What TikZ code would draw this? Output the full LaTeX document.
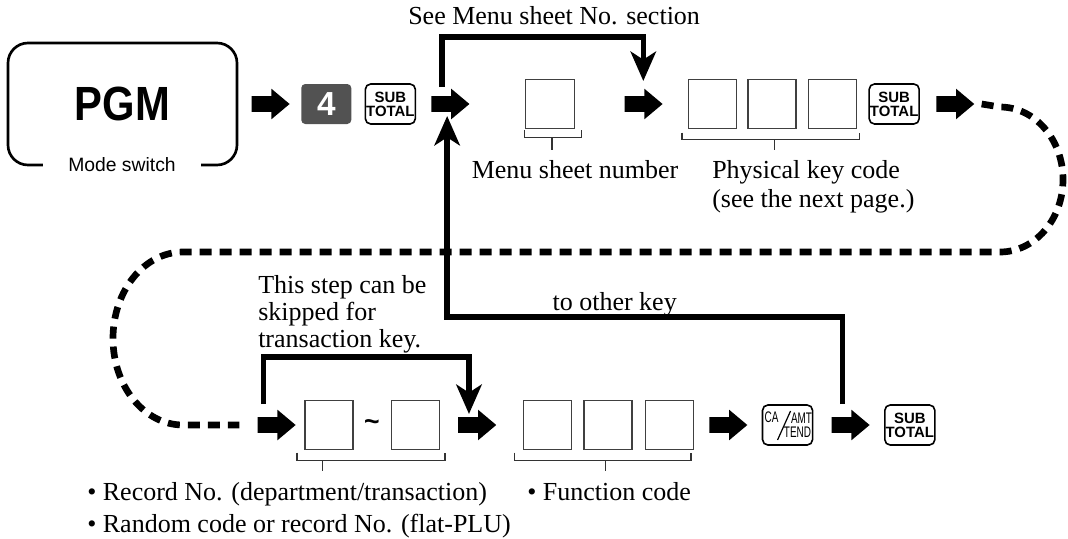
\documentclass[tikz,border=0pt]{standalone}
\usepackage{fontspec}
\setmainfont{Liberation Serif}
\setsansfont{Liberation Sans}
\usetikzlibrary{positioning,shapes.arrows,arrows.meta}

\tikzset{
  flowarrow/.style={single arrow, fill=black, draw=none, inner sep=5.625pt,
    single arrow head extend=5.625pt, single arrow tip angle=80,
    minimum height=28.5pt, minimum width=22.5pt},
  modebox/.style={draw, line width=2pt, rounded corners=15pt,
    minimum width=171.75pt, minimum height=91.5pt,
    font=\sffamily\bfseries\fontsize{36}{36}\selectfont},
  modelabel/.style={fill=white, inner xsep=19pt, inner ysep=2pt,
    font=\sffamily\fontsize{14.5}{16}\selectfont},
  keycap/.style={draw, line width=1.2pt, rounded corners=4pt, inner sep=0pt,
    minimum width=37.5pt, minimum height=30pt, align=center,
    font=\sffamily\bfseries\fontsize{11.2}{10.6}\selectfont},
  keyfour/.style={fill=black!68, rounded corners=3pt, inner sep=0pt,
    minimum width=37.5pt, minimum height=30pt, text=white,
    font=\sffamily\bfseries\fontsize{25}{25}\selectfont},
  keysmall/.style={inner sep=0pt, font=\sffamily\fontsize{11.5}{11.5}\selectfont},
  codebox/.style={draw=black!75, line width=1.1pt, inner sep=0pt,
    minimum width=36pt, minimum height=36.75pt},
  brace/.style={draw=black!80, line width=0.9pt},
  skipline/.style={line width=4.1pt, -{Stealth[length=22pt, width=19pt, inset=6pt]}},
  flowdash/.style={line width=5pt, dash pattern=on 9pt off 6pt},
  tildemark/.style={inner sep=0pt, font=\sffamily\bfseries\fontsize{20}{20}\selectfont},
  note/.style={inner sep=0pt, align=left}
}

\begin{document}
\begin{tikzpicture}[x=0.75pt, y=-0.75pt, font=\fontsize{19.5}{21.75}\selectfont]
\useasboundingbox (0,0) rectangle (1068,539);

% mode switch and first row
\node[modebox] (pgm) at (122.5,104) {\scalebox{0.87}[1]{PGM}};
\node[modelabel] (mode) at (122,165) {Mode switch};
\node[flowarrow, right=9.75pt of pgm] (a1) {};
\node[keyfour, right=8.25pt of a1] (k4) {4};
\node[keycap, right=9.75pt of k4] (ks1) {SUB\\TOTAL};
\node[flowarrow, right=11.25pt of ks1] (a3) {};
\node[codebox, minimum width=36.75pt, right=41.25pt of a3] (menu) {};
\node[flowarrow, right=36.75pt of menu] (a4) {};
\node[codebox, right=18.75pt of a4] (b1) {};
\node[codebox, right=7.5pt of b1] (b2) {};
\node[codebox, right=8.25pt of b2] (b3) {};
\node[keycap, right=8.25pt of b3] (ks2) {SUB\\TOTAL};
\node[flowarrow, right=12pt of ks2] (a5) {};

% second row
\node[flowarrow] (a6) at (272,425) {};
\node[codebox, right=6pt of a6] (r1) {};
\node[codebox, right=27.75pt of r1] (r2) {};
\path (r1) -- node[tildemark] (tl) {\textasciitilde} (r2);
\node[flowarrow, right=13.5pt of r2] (a7) {};
\node[codebox, right=19.5pt of a7] (f1) {};
\node[codebox, right=8.25pt of f1] (f2) {};
\node[codebox, right=9pt of f2] (f3) {};
\node[flowarrow, right=11.25pt of f3] (a8) {};
\node[keycap, right=10.5pt of a8] (kc) {};
\node[flowarrow, right=13.5pt of kc] (a9) {};
\node[keycap, right=10.5pt of a9] (ks3) {SUB\\TOTAL};

% CA/AMT TEND key face
\node[keysmall] (ca) at ([shift={(-16,-8)}]kc.center) {\scalebox{0.65}[1]{CA}};
\node[keysmall] (amt) at ([shift={(14,-7)}]kc.center) {\scalebox{0.65}[1]{AMT}};
\node[keysmall] (tend) at ([shift={(10,7.5)}]kc.center) {\scalebox{0.65}[1]{TEND}};
\draw[line width=0.9pt] ([shift={(-10,15)}]kc.center) -- ([shift={(3,-14)}]kc.center);

% brackets
\draw[brace] ([shift={(0,1)}]menu.south west) -- ++(0,7) -| ([shift={(6,1)}]menu.south east);
\draw[brace] ([shift={(2,8)}]menu.south) -- ++(0,13);
\draw[brace] ([shift={(-6,3.5)}]b1.south west) -- ++(0,7) -| ([shift={(2,3.5)}]b3.south east);
\draw[brace] ([shift={(2,10.5)}]b2.south) -- ++(0,10);
\draw[brace] ([shift={(-7,2.5)}]r1.south west) -- ++(0,8) -| ([shift={(5,2.5)}]r2.south east);
\draw[brace] ([shift={(-6,10.5)}]r1.south) -- ++(0,10);
\draw[brace] ([shift={(-8,2.5)}]f1.south west) -- ++(0,8) -| ([shift={(-3,2.5)}]f3.south east);
\draw[brace] ([shift={(-2,10.5)}]f2.south) -- ++(0,10);

% labels
\node[note, anchor=base west] (seemenu) at (408,25) {See Menu sheet No. section};
\node[note, anchor=base] (menulbl) at (575,178) {Menu sheet number};
\node[note, anchor=north west, font=\fontsize{19.5}{21.75}\selectfont] (physlbl) at (712,160) {Physical key code\\(see the next page.)};
\node[note, anchor=north west, font=\fontsize{19.5}{20.25}\selectfont] (skiplbl) at (258,275) {This step can be\\skipped for\\transaction key.};
\node[note, anchor=base east] (otherlbl) at (677,310) {to other key};
\node[note, anchor=base west] (reclbl) at (87,500) {\textbullet\ Record No. (department/transaction)};
\node[note, anchor=base west] (rndlbl) at (87,532) {\textbullet\ Random code or record No. (flat-PLU)};
\node[note, anchor=base west] (funclbl) at (527,500) {\textbullet\ Function code};

% skip and return paths
\coordinate (s1) at ([shift={(11,-17)}]a3.west);
\coordinate (t1) at ([shift={(19,-23)}]a4.west);
\draw[skipline] (s1) -- ++(0,-50) -| (t1);
\coordinate (s2) at ([shift={(6,-21)}]a6.west);
\coordinate (t2) at ([shift={(11,-11)}]a7.west);
\draw[skipline] (s2) -- ++(0,-47) -| (t2);
\coordinate (s3) at ([shift={(11,-21)}]a9.west);
\coordinate (t3) at ([shift={(16,12)}]a3.west);
\draw[skipline] (s3) -- ++(0,-87) -| (t3);

% dashed link between the rows
\draw[flowdash] ([shift={(7,0)}]a5.east) -- (1000,107)
  arc[start angle=-90, end angle=90, x radius=63, y radius=72.5]
  -- (183,252) arc[start angle=270, end angle=90, x radius=70, y radius=86.5]
  -- ([shift={(-18,0)}]a6.west);
\end{tikzpicture}
\end{document}
